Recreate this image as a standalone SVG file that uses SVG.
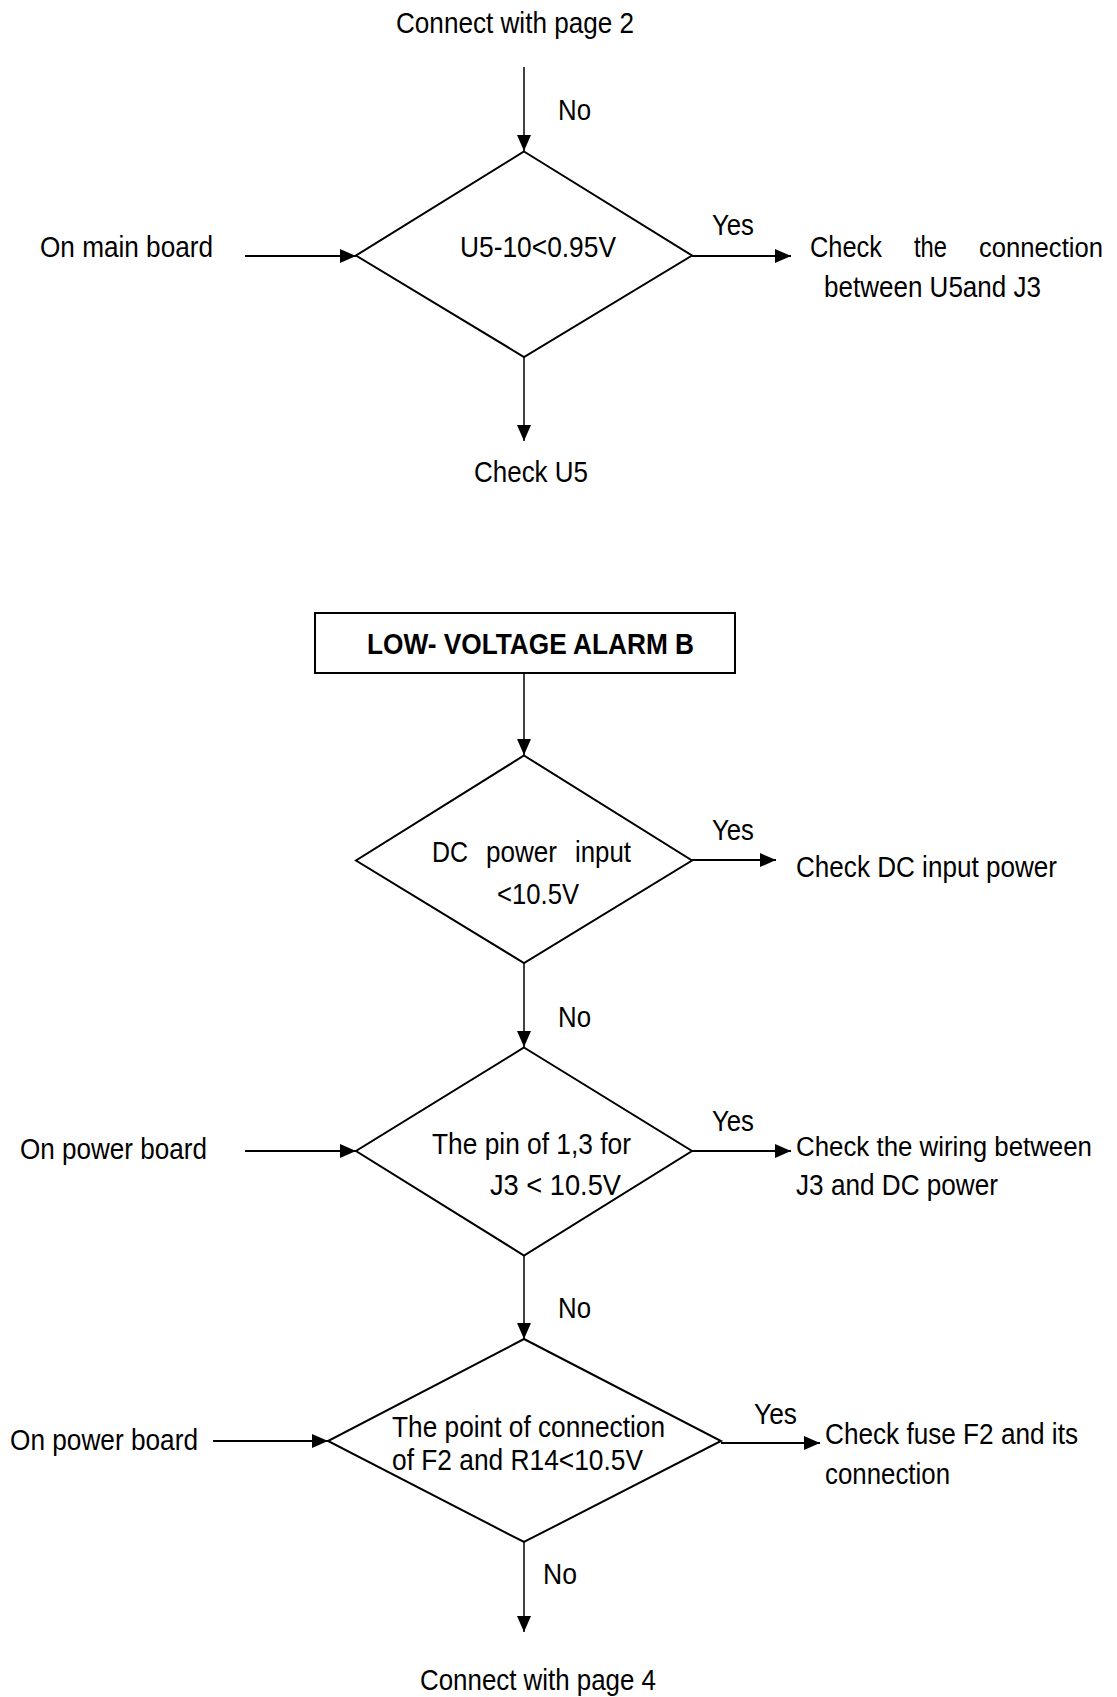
<svg xmlns="http://www.w3.org/2000/svg" width="1117" height="1697" viewBox="0 0 1117 1697">
<style>
  text { font-family: "Liberation Sans", Arial, sans-serif; font-size: 30px; fill: #000; }
  .b { font-weight: bold; font-size: 29px; }
  .edge { font-size: 27px; }
  .shape { fill: #fff; stroke: #000; stroke-width: 2; }
  .v { stroke: #000; stroke-width: 1.5; fill: none; }
  .h { stroke: #000; stroke-width: 2.2; fill: none; }
</style>
<defs>
  <marker id="ah" markerUnits="userSpaceOnUse" markerWidth="16" markerHeight="14" refX="16" refY="7" orient="auto">
    <path d="M0,0 L16,7 L0,14 Z" fill="#000"/>
  </marker>
</defs>

<g id="connectors">
  <line class="v" x1="524" y1="67" x2="524" y2="151" marker-end="url(#ah)"/>
  <line class="h" x1="245" y1="256" x2="356" y2="256" marker-end="url(#ah)"/>
  <line class="h" x1="692" y1="256" x2="791" y2="256" marker-end="url(#ah)"/>
  <line class="v" x1="524" y1="357" x2="524" y2="441" marker-end="url(#ah)"/>
  <line class="v" x1="524" y1="673" x2="524" y2="755" marker-end="url(#ah)"/>
  <line class="h" x1="692" y1="860" x2="776" y2="860" marker-end="url(#ah)"/>
  <line class="v" x1="524" y1="963" x2="524" y2="1047" marker-end="url(#ah)"/>
  <line class="h" x1="245" y1="1151" x2="356" y2="1151" marker-end="url(#ah)"/>
  <line class="h" x1="692" y1="1151" x2="791" y2="1151" marker-end="url(#ah)"/>
  <line class="v" x1="524" y1="1256" x2="524" y2="1339" marker-end="url(#ah)"/>
  <line class="h" x1="213" y1="1441" x2="328" y2="1441" marker-end="url(#ah)"/>
  <line class="h" x1="721" y1="1443" x2="820" y2="1443" marker-end="url(#ah)"/>
  <line class="v" x1="524" y1="1542" x2="524" y2="1632" marker-end="url(#ah)"/>
</g>

<g id="label-connect2"><text x="396" y="33" textLength="238" lengthAdjust="spacingAndGlyphs">Connect with page 2</text></g>
<g id="label-no1"><text x="558" y="120" textLength="33" lengthAdjust="spacingAndGlyphs">No</text></g>

<g id="decision1">
  <polygon class="shape" points="524,151.5 692,255.5 524,357 356,255.5"/>
  <text x="460" y="257" textLength="156" lengthAdjust="spacingAndGlyphs">U5-10&lt;0.95V</text>
</g>
<g id="label-mainboard"><text x="40" y="257" textLength="173" lengthAdjust="spacingAndGlyphs">On main board</text></g>
<g id="label-yes1"><text x="712" y="235" textLength="42" lengthAdjust="spacingAndGlyphs">Yes</text></g>
<g id="check-connection">
  <text x="810" y="257" textLength="72" lengthAdjust="spacingAndGlyphs">Check</text>
  <text x="914" y="257" textLength="33" lengthAdjust="spacingAndGlyphs">the</text>
  <text class="edge" x="979" y="257" textLength="124" lengthAdjust="spacingAndGlyphs">connection</text>
  <text x="824" y="297" textLength="217" lengthAdjust="spacingAndGlyphs">between U5and J3</text>
</g>
<g id="check-u5"><text x="474" y="482" textLength="114" lengthAdjust="spacingAndGlyphs">Check U5</text></g>

<g id="title-box">
  <rect class="shape" x="315" y="613" width="420" height="60"/>
  <text class="b" x="367" y="654" textLength="327" lengthAdjust="spacingAndGlyphs">LOW- VOLTAGE ALARM B</text>
</g>

<g id="decision2">
  <polygon class="shape" points="524,755.5 692,860.5 524,963 356,860.5"/>
  <text x="432" y="862" textLength="36" lengthAdjust="spacingAndGlyphs">DC</text>
  <text x="486" y="862" textLength="71" lengthAdjust="spacingAndGlyphs">power</text>
  <text x="575" y="862" textLength="56" lengthAdjust="spacingAndGlyphs">input</text>
  <text x="497" y="904" textLength="82" lengthAdjust="spacingAndGlyphs">&lt;10.5V</text>
</g>
<g id="label-yes2"><text x="712" y="840" textLength="42" lengthAdjust="spacingAndGlyphs">Yes</text></g>
<g id="check-dc"><text x="796" y="877" textLength="261" lengthAdjust="spacingAndGlyphs">Check DC input power</text></g>
<g id="label-no2"><text x="558" y="1027" textLength="33" lengthAdjust="spacingAndGlyphs">No</text></g>

<g id="decision3">
  <polygon class="shape" points="524,1047.5 692,1151 524,1255.5 356,1151"/>
  <text x="432" y="1154" textLength="199" lengthAdjust="spacingAndGlyphs">The pin of 1,3 for</text>
  <text x="490" y="1195" textLength="131" lengthAdjust="spacingAndGlyphs">J3 &lt; 10.5V</text>
</g>
<g id="label-powerboard1"><text x="20" y="1159" textLength="187" lengthAdjust="spacingAndGlyphs">On power board</text></g>
<g id="label-yes3"><text x="712" y="1131" textLength="42" lengthAdjust="spacingAndGlyphs">Yes</text></g>
<g id="check-wiring">
  <text class="edge" x="796" y="1156" textLength="296" lengthAdjust="spacingAndGlyphs">Check the wiring between</text>
  <text x="796" y="1195" textLength="202" lengthAdjust="spacingAndGlyphs">J3 and DC power</text>
</g>
<g id="label-no3"><text x="558" y="1318" textLength="33" lengthAdjust="spacingAndGlyphs">No</text></g>

<g id="decision4">
  <polygon class="shape" points="524,1339 721,1441 524,1542 328,1441"/>
  <text x="392" y="1437" textLength="273" lengthAdjust="spacingAndGlyphs">The point of connection</text>
  <text x="392" y="1470" textLength="251" lengthAdjust="spacingAndGlyphs">of F2 and R14&lt;10.5V</text>
</g>
<g id="label-powerboard2"><text x="10" y="1450" textLength="188" lengthAdjust="spacingAndGlyphs">On power board</text></g>
<g id="label-yes4"><text x="754" y="1424" textLength="43" lengthAdjust="spacingAndGlyphs">Yes</text></g>
<g id="check-fuse">
  <text x="825" y="1444" textLength="253" lengthAdjust="spacingAndGlyphs">Check fuse F2 and its</text>
  <text x="825" y="1484" textLength="125" lengthAdjust="spacingAndGlyphs">connection</text>
</g>
<g id="label-no4"><text x="543" y="1584" textLength="34" lengthAdjust="spacingAndGlyphs">No</text></g>
<g id="label-connect4"><text x="420" y="1690" textLength="236" lengthAdjust="spacingAndGlyphs">Connect with page 4</text></g>
</svg>
